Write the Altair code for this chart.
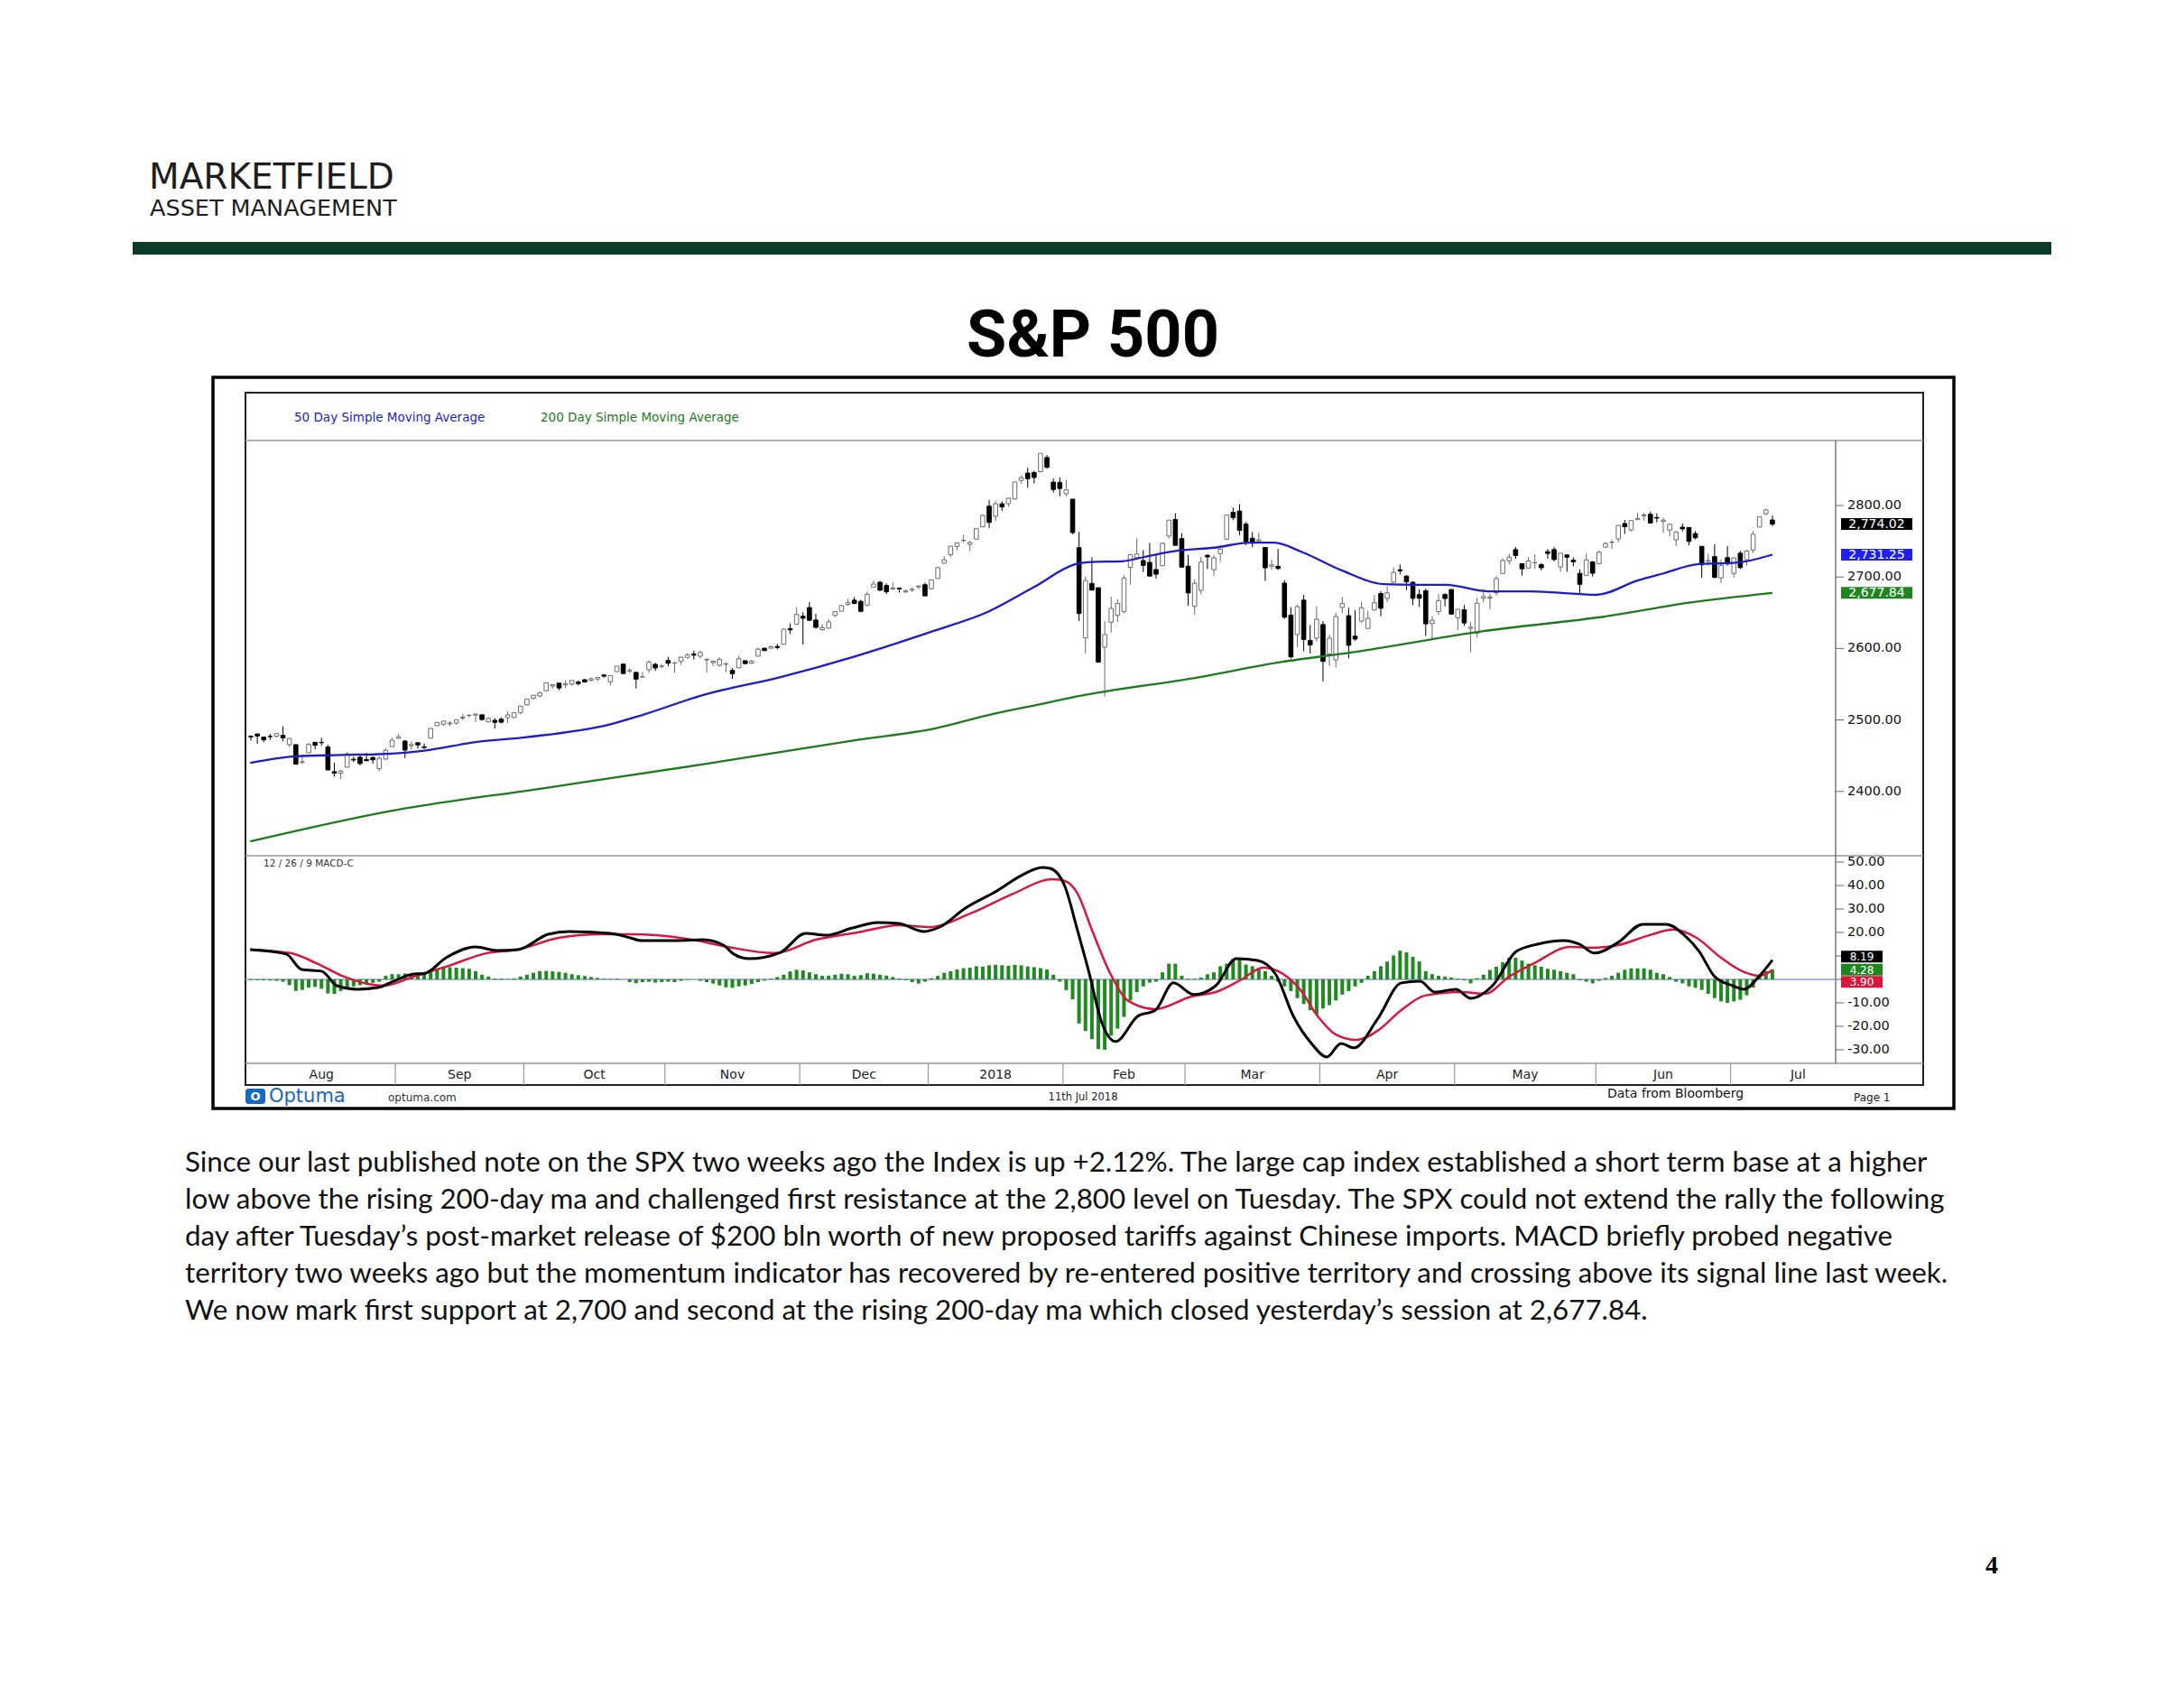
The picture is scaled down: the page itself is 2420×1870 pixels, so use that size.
import altair as alt
import pandas as pd

# ---------------- data ----------------
month_labels = ["Aug", "Sep", "Oct", "Nov", "Dec", "2018", "Feb", "Mar", "Apr", "May", "Jun", "Jul"]
month_trading_days = [23, 20, 22, 21, 20, 21, 19, 21, 21, 22, 21, 21]

opens = [
    2477.1, 2480.4, 2476.0, 2476.9, 2477.1, 2478.4, 2465.4, 2465.4, 2441.0, 2454.0, 2468.7, 2468.6, 2462.0, 2427.6, 2425.5, 2433.8, 2444.9, 2447.9, 2444.7, 2447.4, 2431.9, 2445.3, 2462.7,
    2474.4, 2470.4, 2463.8, 2468.1, 2462.3, 2474.5, 2491.9, 2493.9, 2494.6, 2495.7, 2502.5, 2506.3, 2506.8, 2507.2, 2497.3, 2499.4, 2501.0, 2503.3, 2503.4, 2510.4,
    2521.2, 2530.3, 2533.5, 2540.9, 2547.4, 2551.4, 2549.0, 2550.3, 2552.9, 2556.2, 2555.6, 2557.2, 2562.9, 2553.4, 2567.6, 2578.1, 2568.7, 2566.5, 2560.1, 2570.3, 2577.8, 2575.0,
    2583.2, 2579.5, 2581.9, 2587.5, 2592.1, 2589.2, 2584.0, 2580.2, 2576.5, 2577.8, 2569.4, 2572.9, 2582.9, 2579.5, 2589.2, 2600.3, 2600.4, 2602.7, 2605.9, 2627.8, 2633.9,
    2645.1, 2657.2, 2639.8, 2626.2, 2628.4, 2646.2, 2652.2, 2661.7, 2667.6, 2665.9, 2660.6, 2685.9, 2692.7, 2688.2, 2683.0, 2684.2, 2679.1, 2682.1, 2686.1, 2689.2,
    2683.7, 2697.9, 2719.3, 2731.3, 2742.7, 2751.2, 2745.6, 2753.0, 2770.2, 2799.0, 2785.0, 2802.4, 2802.6, 2809.2, 2835.1, 2845.4, 2846.2, 2847.5, 2867.2, 2832.7, 2832.4,
    2816.5, 2808.9, 2741.1, 2614.8, 2691.0, 2685.0, 2601.8, 2636.8, 2646.3, 2651.8, 2713.5, 2727.1, 2723.0, 2720.5, 2710.4, 2715.8, 2757.4, 2780.5, 2753.8,
    2715.2, 2658.9, 2681.1, 2730.2, 2710.2, 2732.8, 2752.9, 2790.5, 2792.3, 2774.1, 2754.3, 2750.6, 2741.4, 2715.1, 2715.0, 2691.4, 2646.7, 2619.4, 2667.6, 2611.3, 2614.4,
    2633.5, 2592.2, 2584.0, 2657.4, 2645.8, 2617.2, 2638.4, 2628.0, 2653.8, 2676.9, 2670.1, 2692.7, 2710.1, 2701.2, 2692.6, 2675.4, 2680.8, 2634.9, 2651.6, 2675.5, 2682.5,
    2643.0, 2654.2, 2628.1, 2621.5, 2670.3, 2670.3, 2678.1, 2705.0, 2722.7, 2738.3, 2718.6, 2712.6, 2719.7, 2717.4, 2735.4, 2738.3, 2714.0, 2730.9, 2723.6, 2705.1, 2702.4, 2721.0,
    2718.7, 2741.7, 2748.5, 2753.3, 2774.8, 2765.8, 2780.2, 2785.6, 2787.9, 2783.2, 2777.8, 2765.8, 2752.0, 2769.7, 2769.3, 2760.8, 2742.9, 2722.1, 2728.5, 2698.7, 2727.1,
    2705.0, 2733.3, 2724.2, 2737.7, 2769.8, 2788.6, 2779.8,
]
highs = [
    2478.5, 2480.4, 2476.0, 2480.4, 2480.9, 2490.9, 2474.4, 2465.4, 2448.1, 2468.2, 2468.8, 2474.9, 2465.0, 2440.3, 2430.6, 2454.8, 2448.9, 2450.4, 2453.9, 2449.1, 2449.2, 2460.3, 2475.0,
    2480.4, 2471.9, 2469.6, 2468.6, 2467.1, 2488.9, 2497.0, 2498.4, 2498.4, 2500.2, 2508.3, 2507.8, 2508.9, 2507.2, 2503.5, 2502.5, 2503.5, 2511.8, 2510.8, 2519.4,
    2529.2, 2535.1, 2540.5, 2552.5, 2549.4, 2551.8, 2555.2, 2555.2, 2555.3, 2557.6, 2559.5, 2559.7, 2564.2, 2562.4, 2575.4, 2578.3, 2572.2, 2567.4, 2567.1, 2582.9, 2580.0, 2578.3,
    2588.4, 2581.1, 2588.4, 2593.4, 2597.0, 2597.0, 2586.5, 2583.0, 2587.7, 2579.7, 2572.8, 2590.1, 2583.0, 2584.6, 2601.2, 2600.9, 2604.2, 2606.4, 2627.7, 2634.9, 2657.7,
    2650.6, 2665.2, 2648.7, 2634.4, 2640.9, 2651.7, 2660.3, 2669.7, 2671.9, 2668.1, 2679.6, 2695.0, 2694.4, 2691.0, 2692.6, 2685.4, 2682.7, 2685.6, 2688.0, 2692.1,
    2695.9, 2714.4, 2729.3, 2743.5, 2748.5, 2759.1, 2750.8, 2767.6, 2787.9, 2807.5, 2807.0, 2805.8, 2810.3, 2833.0, 2842.2, 2853.0, 2848.6, 2872.9, 2870.6, 2837.8, 2839.3,
    2836.0, 2808.9, 2763.4, 2701.0, 2727.7, 2685.3, 2638.7, 2672.6, 2668.8, 2702.1, 2731.5, 2754.4, 2737.6, 2747.8, 2731.3, 2747.8, 2780.0, 2789.2, 2761.5,
    2730.9, 2696.3, 2728.1, 2732.1, 2730.6, 2740.5, 2786.6, 2797.0, 2801.9, 2777.1, 2763.0, 2761.9, 2741.4, 2724.2, 2739.1, 2695.7, 2657.7, 2661.4, 2674.8, 2632.6, 2659.1,
    2638.3, 2619.1, 2649.9, 2672.1, 2656.9, 2653.6, 2665.5, 2652.8, 2674.7, 2680.3, 2686.5, 2713.3, 2717.5, 2702.8, 2693.9, 2682.9, 2683.6, 2645.3, 2676.5, 2677.4, 2682.9,
    2655.3, 2660.9, 2637.1, 2670.9, 2683.4, 2676.3, 2701.3, 2726.1, 2732.9, 2742.1, 2718.6, 2727.8, 2732.0, 2719.5, 2739.2, 2742.2, 2733.3, 2732.0, 2727.4, 2710.7, 2732.9, 2722.5,
    2736.9, 2749.2, 2752.6, 2772.4, 2779.9, 2779.4, 2790.2, 2789.8, 2791.5, 2789.1, 2782.8, 2775.0, 2765.0, 2774.9, 2769.3, 2764.2, 2742.9, 2732.9, 2746.1, 2724.3, 2743.3,
    2727.3, 2736.6, 2737.8, 2764.4, 2784.7, 2795.6, 2785.9,
]
lows = [
    2471.1, 2466.5, 2468.9, 2472.1, 2475.4, 2470.3, 2462.1, 2437.8, 2437.9, 2454.0, 2458.8, 2463.9, 2430.0, 2420.7, 2417.4, 2433.7, 2441.4, 2436.2, 2442.2, 2439.0, 2428.2, 2443.8, 2462.7,
    2473.9, 2446.6, 2458.0, 2460.3, 2459.4, 2474.5, 2491.9, 2492.1, 2491.4, 2493.2, 2499.9, 2503.2, 2496.7, 2499.0, 2496.5, 2488.0, 2495.1, 2495.9, 2502.9, 2507.8,
    2520.4, 2528.9, 2531.8, 2540.0, 2543.8, 2541.6, 2544.9, 2547.9, 2548.3, 2552.1, 2553.9, 2554.2, 2559.2, 2547.9, 2567.6, 2564.3, 2565.6, 2544.0, 2559.5, 2566.2, 2568.6, 2572.2,
    2574.9, 2566.2, 2576.8, 2585.7, 2584.4, 2586.0, 2566.3, 2575.6, 2574.5, 2566.6, 2557.4, 2572.9, 2577.6, 2578.2, 2589.2, 2596.5, 2600.4, 2598.9, 2605.4, 2620.3, 2633.9,
    2605.5, 2639.0, 2627.7, 2624.8, 2628.4, 2644.1, 2652.0, 2659.8, 2662.9, 2650.6, 2659.1, 2685.9, 2680.7, 2676.1, 2682.4, 2678.1, 2678.0, 2678.9, 2682.7, 2673.6,
    2682.4, 2697.8, 2719.1, 2727.9, 2737.6, 2747.9, 2736.1, 2752.8, 2769.6, 2768.6, 2778.4, 2792.6, 2798.1, 2808.1, 2830.6, 2824.8, 2830.9, 2846.2, 2851.5, 2818.3, 2813.0,
    2812.7, 2760.0, 2638.2, 2593.1, 2681.3, 2580.6, 2532.7, 2622.5, 2637.1, 2648.9, 2689.8, 2725.1, 2706.8, 2701.3, 2697.8, 2715.8, 2753.8, 2744.2, 2713.5,
    2659.7, 2647.3, 2675.8, 2711.3, 2701.7, 2721.2, 2751.5, 2779.3, 2758.7, 2744.4, 2741.5, 2750.0, 2694.6, 2710.1, 2709.8, 2641.6, 2585.9, 2601.8, 2596.1, 2593.1, 2609.7,
    2553.8, 2575.5, 2573.6, 2649.6, 2586.3, 2610.8, 2635.8, 2627.5, 2653.8, 2645.1, 2665.2, 2692.1, 2703.6, 2681.9, 2660.6, 2658.0, 2617.3, 2612.7, 2647.2, 2659.0, 2648.0,
    2625.4, 2631.7, 2594.6, 2615.3, 2664.7, 2655.2, 2674.1, 2704.5, 2717.5, 2725.5, 2701.9, 2712.2, 2711.4, 2709.2, 2725.7, 2721.9, 2707.4, 2707.4, 2715.0, 2676.8, 2702.4, 2700.7,
    2718.7, 2740.5, 2739.5, 2748.5, 2760.2, 2763.6, 2779.9, 2778.8, 2774.7, 2776.5, 2761.7, 2757.1, 2743.2, 2763.9, 2744.4, 2752.7, 2698.7, 2715.6, 2698.0, 2692.0, 2716.0,
    2699.0, 2711.2, 2716.0, 2733.5, 2769.8, 2786.2, 2770.8,
]
closes = [
    2476.35, 2477.57, 2472.16, 2476.83, 2480.91, 2474.92, 2474.02, 2438.21, 2441.32, 2465.84, 2464.61, 2468.11, 2430.01, 2425.55, 2428.37, 2452.51, 2444.04, 2438.97, 2443.05, 2444.24, 2446.30, 2457.59, 2471.65,
    2476.55, 2457.85, 2465.54, 2465.10, 2461.43, 2488.11, 2496.48, 2498.37, 2495.62, 2500.23, 2503.87, 2506.65, 2508.24, 2500.60, 2502.22, 2496.66, 2496.84, 2507.04, 2510.06, 2519.36,
    2529.12, 2534.58, 2537.74, 2552.07, 2549.33, 2544.73, 2550.64, 2555.24, 2550.93, 2553.17, 2557.64, 2559.36, 2561.26, 2562.10, 2575.21, 2564.98, 2569.13, 2557.15, 2560.40, 2581.07, 2572.83, 2575.26,
    2579.36, 2579.85, 2587.84, 2591.13, 2590.64, 2594.38, 2584.62, 2582.30, 2584.84, 2578.87, 2564.62, 2585.64, 2578.85, 2582.14, 2599.03, 2597.08, 2602.42, 2601.42, 2627.04, 2626.07, 2647.58,
    2642.22, 2639.44, 2629.57, 2629.27, 2636.98, 2651.50, 2659.99, 2664.11, 2662.85, 2652.01, 2675.81, 2690.16, 2681.47, 2679.25, 2684.57, 2683.34, 2680.50, 2682.62, 2687.54, 2673.61,
    2695.81, 2713.06, 2723.99, 2743.15, 2747.71, 2751.29, 2748.23, 2767.56, 2786.24, 2776.42, 2802.56, 2798.03, 2810.30, 2832.97, 2839.13, 2837.54, 2839.25, 2872.87, 2853.53, 2822.43, 2823.81,
    2821.98, 2762.13, 2648.94, 2695.14, 2681.66, 2581.00, 2619.55, 2656.00, 2662.94, 2698.63, 2731.20, 2732.22, 2716.26, 2701.33, 2703.96, 2747.30, 2779.60, 2744.28, 2713.83,
    2677.67, 2691.25, 2720.94, 2728.12, 2726.80, 2738.97, 2786.57, 2783.02, 2765.31, 2749.48, 2747.33, 2752.01, 2712.92, 2716.94, 2711.93, 2643.69, 2588.26, 2658.55, 2612.62, 2605.00, 2640.87,
    2581.88, 2614.45, 2644.69, 2662.84, 2604.47, 2613.16, 2656.87, 2642.19, 2663.99, 2656.30, 2677.84, 2706.39, 2708.64, 2693.13, 2670.14, 2670.29, 2634.56, 2639.40, 2666.94, 2669.91, 2648.05,
    2654.80, 2635.67, 2629.73, 2663.42, 2672.63, 2671.92, 2697.79, 2723.07, 2727.72, 2730.13, 2711.45, 2722.46, 2720.13, 2712.97, 2733.01, 2724.44, 2733.29, 2727.76, 2721.33, 2689.86, 2724.01, 2705.27,
    2734.62, 2746.87, 2748.80, 2772.35, 2770.37, 2779.03, 2782.00, 2786.85, 2775.63, 2782.49, 2779.66, 2773.75, 2762.59, 2767.32, 2749.76, 2754.88, 2717.07, 2723.06, 2699.63, 2716.31, 2718.37,
    2726.71, 2713.22, 2736.61, 2759.82, 2784.17, 2793.84, 2774.02,
]

# 50-day and 200-day simple moving averages (trading-day index, level)
ma50_day = [-0.1, 7, 14, 22, 27, 35, 43, 56, 61, 70.5, 82.5, 94.5, 106.5, 114.5, 122, 128.5, 130.8, 135.7, 139.6, 144.5, 150, 155.7, 159.4, 163.7, 170, 176.5, 181.4, 186.2, 192.6, 199, 203.8, 209.5, 216, 220, 225.5, 231.3, 237]
ma50_val = [2440, 2449, 2451, 2453, 2457, 2469, 2476, 2494, 2507, 2535, 2560, 2590, 2625, 2650, 2686, 2718, 2721, 2722, 2729, 2737, 2741, 2748, 2748, 2735, 2709, 2690, 2689, 2689, 2680, 2680, 2678, 2675, 2695, 2705, 2718, 2720, 2731.25]
ma200_day = [-0.1, 22, 46, 70.5, 94.5, 106.5, 114.5, 124, 127.6, 147.8, 160.5, 171.8, 191.8, 211.9, 224, 237]
ma200_val = [2330, 2373, 2405, 2438, 2472, 2488, 2506, 2524, 2531, 2560, 2581, 2595, 2624, 2646, 2664, 2677.84]

# MACD(12,26,9) line and signal line
macd_day = [-0.1, 5.5, 7.9, 11, 13.4, 16.6, 19.8, 22.2, 25.4, 27, 30.4, 35, 38.3, 41.6, 46.3, 49.5, 56, 59.1, 60.8, 66.4, 70.4, 73.6, 75.2, 77.6, 82.5, 86.4, 89.6, 93.7, 97.7, 100.9, 104.8, 107.3, 111.3, 116.2, 120.2, 123.3, 124.5, 126.8, 128.7, 130.5, 132.5, 134.7, 138.1, 140.9, 143.7, 146.9, 150.3, 153.5, 156.8, 159.6, 162.4, 165.2, 167.6, 169.8, 171.8, 175.5, 179.2, 182.1, 184.4, 187.7, 190, 193.4, 197.1, 200.4, 204.6, 206.9, 209.3, 213, 216.8, 220.5, 223.3, 225.6, 228, 230.8, 232.6, 234.9, 237]
macd_val = [12.7, 10.8, 4.2, 3.5, -2.7, -4.2, -3.5, -0.8, 2.3, 2.5, 9.2, 13.8, 12.3, 12.7, 19.2, 20.4, 19.6, 17.7, 16.5, 16.5, 16.9, 14.6, 10.8, 8.8, 11.5, 19.6, 18.8, 21.9, 24.2, 23.8, 20.4, 22.3, 30.4, 37.7, 44.6, 47.7, 47.3, 39.6, 21.5, 3.5, -18.1, -26.5, -15.8, -13.1, -1.5, -6.5, -2.7, 8.8, 8.1, 2.3, -15.8, -27.3, -33.1, -27.3, -29.2, -16.9, -1.5, -0.8, -5.4, -4.2, -8.1, -2.7, 11.9, 15.0, 16.5, 15.0, 11.2, 15.8, 23.5, 23.5, 18.8, 11.9, 1.2, -2.7, -4.2, 1.2, 8.19]
signal_day = [-0.1, 6.1, 10.2, 14.2, 20.7, 25.4, 30.4, 36.8, 41.6, 47.9, 54.4, 59.1, 68.8, 74.3, 81.6, 88, 94.5, 100.9, 105.7, 112.1, 118.5, 124.9, 126.8, 128.7, 131.1, 133.9, 136.7, 140.9, 146.5, 150.3, 154.1, 157.7, 160, 163.4, 166.2, 169, 172.2, 175.5, 179.2, 182.9, 188.5, 192.3, 196, 199.9, 205.5, 209.3, 213, 217.8, 221.6, 225.2, 229, 232.6, 234.9, 237]
signal_val = [12.7, 11.2, 6.9, 1.5, -2.7, 1.2, 5.4, 11.2, 12.7, 17.7, 19.2, 19.2, 16.9, 13.8, 11.2, 16.9, 20.0, 23.1, 22.3, 28.1, 36.2, 42.7, 41.9, 36.9, 20.4, 2.3, -9.2, -12.7, -7.3, -5.4, -0.4, 5.0, 3.5, -4.2, -15.8, -23.5, -25.8, -21.9, -13.1, -6.9, -5.4, -6.1, 1.2, 6.9, 13.8, 13.5, 14.6, 18.8, 21.2, 17.7, 9.2, 3.1, 1.5, 3.90]

# MACD histogram, one bar per trading day
histogram = [
    -0.3, -0.3, -0.4, -0.5, -0.6, -1.0, -2.5, -4.9, -4.5, -3.5, -3.2, -4.0, -6.0, -6.2, -5.0, -3.5, -3.0, -2.5, -2.0, -1.5,
    -1.0, 1.5, 2.2, 2.2, 2.5, 2.2, 2.8, 3.0, 4.0, 4.7, 5.0, 5.2, 5.0, 4.8, 4.5, 3.5, 2.0, 1.2, 0.4, 0.3,
    0.2, 0.4, 1.2, 2.0, 2.8, 3.5, 3.6, 3.4, 3.2, 2.8, 2.2, 1.8, 1.4, 1.0, 0.6, 0.3, 0.2, 0.3, 0.0, -1.2,
    -1.6, -1.2, -1.0, -1.4, -1.2, -1.0, -1.2, -0.6, -0.2, 0.0, -0.6, -1.2, -1.8, -2.6, -3.4, -3.6, -3.0, -2.6, -2.0, -1.2,
    -0.5, 0.3, 1.0, 2.0, 3.4, 4.1, 3.8, 3.0, 2.2, 1.5, 1.6, 2.0, 2.4, 2.2, 1.5, 1.8, 2.6, 2.4, 2.0, 1.6,
    1.0, 0.4, -0.4, -1.2, -1.8, -1.0, 0.5, 1.5, 2.8, 3.5, 4.2, 4.8, 5.0, 5.6, 5.4, 6.0, 6.2, 6.0, 5.8, 6.2,
    6.0, 5.5, 5.2, 4.8, 4.2, 2.0, -1.0, -4.6, -8.5, -18.8, -22.0, -25.5, -29.7, -30.0, -24.0, -21.0, -16.0, -9.0, -5.4, -3.0,
    -1.4, -1.0, 3.0, 6.7, 6.7, 1.5, 0.3, 0.3, 0.8, 2.2, 3.0, 5.6, 6.7, 8.8, 8.5, 6.3, 5.6, 4.2, 3.5, 1.5,
    -1.0, -3.0, -5.0, -8.0, -10.5, -13.1, -15.0, -12.4, -11.0, -9.0, -6.5, -5.0, -3.0, -1.5, 1.5, 3.5, 5.6, 7.6, 10.2, 12.2,
    11.5, 9.6, 7.6, 3.5, 2.2, 1.5, 1.2, 0.8, 0.3, -0.4, -1.7, 0.5, 2.0, 4.0, 5.4, 7.3, 9.2, 9.2, 8.0, 6.7,
    6.0, 5.4, 4.5, 4.1, 3.5, 2.8, 2.2, -0.4, -1.0, -1.7, -0.6, 0.6, 1.5, 2.8, 4.1, 4.7, 4.7, 4.7, 4.1, 2.8,
    2.2, 1.0, -1.0, -1.7, -3.0, -3.6, -4.5, -6.2, -8.0, -9.4, -10.0, -9.4, -8.7, -6.8, -3.5, 1.5, 3.5, 4.28,
]

price_ticks = [2400, 2500, 2600, 2700, 2800]
macd_ticks = [-30, -20, -10, 0, 10, 20, 30, 40, 50]
macd_labelled = [-30, -20, -10, 20, 30, 40, 50]   # 0 and 10 are hidden behind the value tags

paragraph = [
    "Since our last published note on the SPX two weeks ago the Index is up +2.12%. The large cap index established a short term base at a higher",
    "low above the rising 200-day ma and challenged first resistance at the 2,800 level on Tuesday. The SPX could not extend the rally the following",
    "day after Tuesday\u2019s post-market release of $200 bln worth of new proposed tariffs against Chinese imports. MACD briefly probed negative",
    "territory two weeks ago but the momentum indicator has recovered by re-entered positive territory and crossing above its signal line last week.",
    "We now mark first support at 2,700 and second at the rising 200-day ma which closed yesterday\u2019s session at 2,677.84.",
]

# ---------------- tables ----------------
candles = pd.DataFrame({"i": list(range(len(closes))), "o": opens, "h": highs, "l": lows, "c": closes})
candles["dir"] = ["up" if c >= o else "down" for o, c in zip(opens, closes)]
ma50 = pd.DataFrame({"i": ma50_day, "v": ma50_val})
ma200 = pd.DataFrame({"i": ma200_day, "v": ma200_val})
macd = pd.DataFrame({"i": macd_day, "v": macd_val})
sig = pd.DataFrame({"i": signal_day, "v": signal_val})
hist = pd.DataFrame({"i": list(range(len(histogram))), "h": histogram})
pticks = pd.DataFrame({"v": price_ticks, "t": [f"{v:.2f}" for v in price_ticks]})
mticks = pd.DataFrame({"v": macd_ticks, "t": [f"{v:.2f}" for v in macd_ticks]})
mlabels = pd.DataFrame({"v": macd_labelled, "t": [f"{v:.2f}" for v in macd_labelled]})

starts, mids = [], []
cum = 0
for d in month_trading_days:
    starts.append(cum - 0.5)
    mids.append(cum - 0.5 + d / 2)
    cum += d
months = pd.DataFrame({"lab": month_labels, "mid": mids, "start": starts})
seps = months.iloc[1:]

# ---------------- scales ----------------
xscale = alt.Scale(domain=[-0.14, 246.15], range=[272, 2034], nice=False, zero=False)
ys_price = alt.Scale(domain=[2310, 2891], range=[948, 488], nice=False, zero=False)
ys_macd = alt.Scale(domain=[-35.8, 52.7], range=[1178, 948], nice=False, zero=False)

FONT = "DejaVu Sans"


def X(field):
    return alt.X(f"{field}:Q", scale=xscale, axis=None)


def label(s, x, y, size, color="#111", font=FONT, weight="normal", align="left", baseline="middle"):
    return alt.Chart(pd.DataFrame({"t": [s]})).mark_text(
        font=font, fontSize=size, fontWeight=weight, color=color, align=align, baseline=baseline
    ).encode(x=alt.value(x), y=alt.value(y), text="t:N")


def rect(x0, y0, x1, y1, **kw):
    return alt.Chart(pd.DataFrame({"a": [0]})).mark_rect(**kw).encode(
        x=alt.value(x0), x2=alt.value(x1), y=alt.value(y0), y2=alt.value(y1))


def hline(x0, x1, y, color="#999", width=1.5):
    return alt.Chart(pd.DataFrame({"a": [0]})).mark_rule(color=color, strokeWidth=width).encode(
        x=alt.value(x0), x2=alt.value(x1), y=alt.value(y))


def y_axis_marks(ticks_df, labels_df, scale):
    tick = alt.Chart(ticks_df).mark_rule(color="#666", strokeWidth=1).encode(
        x=alt.value(2034), x2=alt.value(2043), y=alt.Y("v:Q", scale=scale, axis=None))
    txt = alt.Chart(labels_df).mark_text(font=FONT, fontSize=14.5, color="#111", align="left",
                                         baseline="middle").encode(
        x=alt.value(2047), y=alt.Y("v:Q", scale=scale, axis=None), text="t:N")
    return [tick, txt]


def value_tag(value, color, scale, x0, x1, shift=0.0, size=14):
    d = pd.DataFrame({"v": [value], "t": [f"{value:,.2f}"]})
    b = alt.Chart(d).mark_rect(color=color, yOffset=shift - 6.5, y2Offset=shift + 6.5).encode(
        x=alt.value(x0), x2=alt.value(x1), y=alt.Y("v:Q", scale=scale, axis=None), y2="v:Q")
    t = alt.Chart(d).mark_text(font=FONT, fontSize=size, color="white", align="center", baseline="middle",
                               dy=shift + 0.5).encode(
        x=alt.value((x0 + x1) / 2), y=alt.Y("v:Q", scale=scale, axis=None), text="t:N")
    return [b, t]


# ---------------- price panel ----------------
dir_dom = ["up", "down"]
wicks = alt.Chart(candles).mark_rule(strokeWidth=1).encode(
    x=X("i"),
    y=alt.Y("l:Q", scale=ys_price, axis=None),
    y2="h:Q",
    color=alt.Color("dir:N", scale=alt.Scale(domain=dir_dom, range=["#6a6a6a", "#000000"]), legend=None),
)
bodies = alt.Chart(candles).mark_bar(size=4.6, strokeWidth=1).encode(
    x=X("i"),
    y=alt.Y("o:Q", scale=ys_price, axis=None),
    y2="c:Q",
    fill=alt.Fill("dir:N", scale=alt.Scale(domain=dir_dom, range=["#ffffff", "#000000"]), legend=None),
    stroke=alt.Stroke("dir:N", scale=alt.Scale(domain=dir_dom, range=["#6a6a6a", "#000000"]), legend=None),
)
ma200_line = alt.Chart(ma200).mark_line(color="#1e7a1e", strokeWidth=2.3, interpolate="monotone").encode(
    x=X("i"), y=alt.Y("v:Q", scale=ys_price, axis=None))
ma50_line = alt.Chart(ma50).mark_line(color="#1c1cc8", strokeWidth=2.3, interpolate="monotone").encode(
    x=X("i"), y=alt.Y("v:Q", scale=ys_price, axis=None))

price_group = alt.layer(
    *y_axis_marks(pticks, pticks, ys_price),
    wicks, bodies, ma200_line, ma50_line,
    *value_tag(closes[-1], "#000000", ys_price, 2040, 2119),
    *value_tag(ma50_val[-1], "#1f1ff0", ys_price, 2040, 2119),
    *value_tag(ma200_val[-1], "#1f861f", ys_price, 2040, 2119),
)

# ---------------- MACD panel ----------------
zero_line = alt.Chart(pd.DataFrame({"a": [0]})).mark_rule(color="#8d9cc4", strokeWidth=1.5).encode(
    x=alt.value(272), x2=alt.value(2034),
    y=alt.Y(datum=0, scale=ys_macd, axis=None))
hist_bars = alt.Chart(hist).mark_bar(size=4, color="#1f8a1f").encode(
    x=X("i"), y=alt.Y("h:Q", scale=ys_macd, axis=None), y2=alt.datum(0))
sig_line = alt.Chart(sig).mark_line(color="#d8173f", strokeWidth=2.5, interpolate="monotone").encode(
    x=X("i"), y=alt.Y("v:Q", scale=ys_macd, axis=None))
macd_line = alt.Chart(macd).mark_line(color="#000000", strokeWidth=3, interpolate="monotone").encode(
    x=X("i"), y=alt.Y("v:Q", scale=ys_macd, axis=None))

macd_group = alt.layer(
    *y_axis_marks(mticks, mlabels, ys_macd),
    zero_line, hist_bars, sig_line, macd_line,
    *value_tag(macd_val[-1], "#000000", ys_macd, 2040, 2086, -4, 12),
    *value_tag(histogram[-1], "#1f861f", ys_macd, 2040, 2086, 0.5, 12),
    *value_tag(signal_val[-1], "#dc143c", ys_macd, 2040, 2086, 13, 12),
)

# ---------------- time axis band ----------------
month_sep = alt.Chart(seps).mark_rule(color="#999", strokeWidth=1.2).encode(
    x=X("start"), y=alt.value(1178), y2=alt.value(1202))
month_txt = alt.Chart(months).mark_text(font=FONT, fontSize=14, color="#222", baseline="middle").encode(
    x=X("mid"), y=alt.value(1191), text="lab:N")

# ---------------- page decorations ----------------
deco = [
    label("MARKETFIELD", 165, 209, 39, color="#1e1e1e", baseline="alphabetic"),
    label("ASSET MANAGEMENT", 166, 239, 25.5, color="#1e1e1e", baseline="alphabetic"),
    rect(147, 268, 2273, 282, color="#0c3b28"),
    label("S&P 500", 1211, 395, 72, color="#000", font="Roboto", weight="bold", align="center",
          baseline="alphabetic"),
    rect(272, 435, 2131, 1202, fillOpacity=0, stroke="#222", strokeWidth=2),
    hline(272, 2131, 488),
    hline(272, 2131, 948),
    hline(272, 2131, 1178),
    alt.Chart(pd.DataFrame({"a": [0]})).mark_rule(color="#666", strokeWidth=1.3).encode(
        x=alt.value(2034), y=alt.value(488), y2=alt.value(1178)),
    label("50 Day Simple Moving Average", 326, 463, 13.5, color="#1c1cc8"),
    label("200 Day Simple Moving Average", 599, 463, 13.5, color="#1e7a1e"),
    label("12 / 26 / 9 MACD-C", 292, 957, 10.5, color="#333"),
    rect(272, 1206, 294, 1223, color="#1668c2", cornerRadius=3),
    label("O", 283, 1215, 13, color="white", weight="bold", align="center"),
    label("Optuma", 298, 1215, 21, color="#1668c2"),
    label("optuma.com", 430, 1216, 12, color="#333"),
    label("11th Jul 2018", 1200, 1216, 11.5, color="#222", align="center"),
    label("Data from Bloomberg", 1781, 1212, 14, color="#111"),
    label("Page 1", 2054, 1216, 12, color="#222"),
]
frame = rect(236, 418, 2165, 1228, fillOpacity=0, stroke="#000", strokeWidth=3.5)

text_layers = []
for k, line in enumerate(paragraph):
    text_layers.append(label(line, 205, 1289 + k * 41, 31.3, color="#111", font="Lato"))
text_layers.append(label("4", 2207, 1743, 28, color="#000", font="Liberation Serif", weight="bold",
                         align="center", baseline="alphabetic"))

chart = alt.layer(
    *deco, price_group, macd_group, month_sep, month_txt, frame, *text_layers
).resolve_scale(y="independent").properties(
    width=2034, height=1870,
    padding={"left": 0, "top": 0, "right": 386, "bottom": 0},
    autosize=alt.AutoSizeParams(type="none"),
    background="white",
).configure_view(stroke=None)

chart.save("out.html", embed_options={"renderer": "svg", "actions": False})
